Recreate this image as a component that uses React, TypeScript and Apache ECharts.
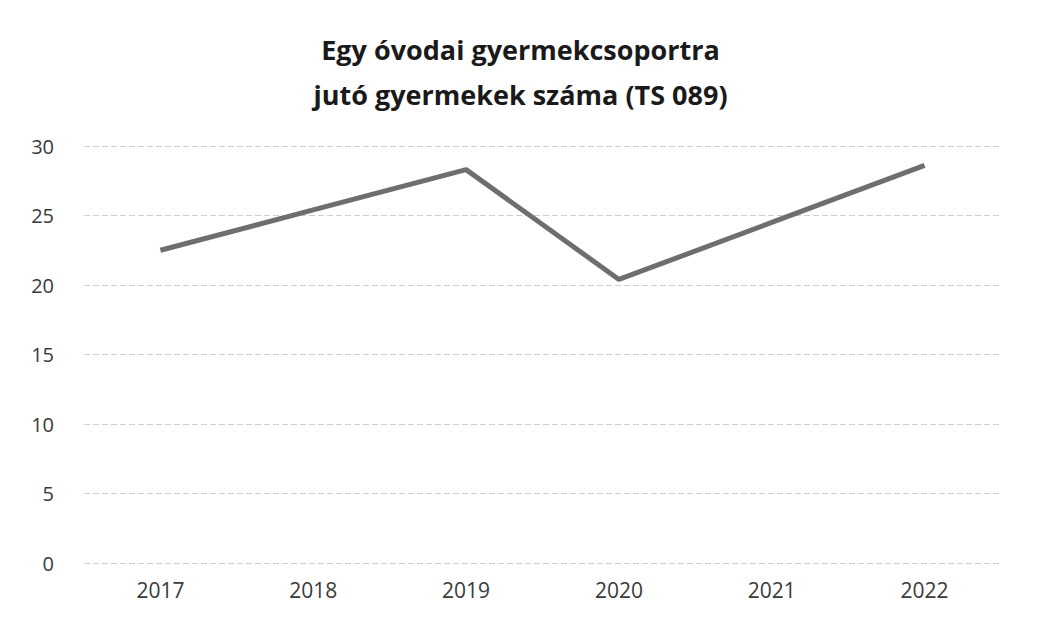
import React, { useEffect, useRef } from "react";
import * as echarts from "echarts";

const titleLines = ["Egy óvodai gyermekcsoportra", "jutó gyermekek száma (TS 089)"];
const years = ["2017", "2018", "2019", "2020", "2021", "2022"];
const values = [22.5, 25.4, 28.3, 20.4, 24.5, 28.6];
const yMin = 0;
const yMax = 30;
const yInterval = 5;

export default function App() {
  const ref = useRef<HTMLDivElement>(null);
  useEffect(() => {
    if (!ref.current) return;
    const chart = echarts.init(ref.current, undefined, { renderer: "svg" });
    chart.setOption({
      animation: false,
      backgroundColor: "#ffffff",
      title: {
        text: titleLines.join("\n"),
        left: "center",
        top: 22,
        textStyle: {
          fontFamily: "Open Sans",
          fontWeight: "bold",
          fontSize: 27,
          lineHeight: 45,
          color: "#1a1a1a",
        },
      },
      grid: { left: 84, right: 40, top: 146, bottom: 55 },
      xAxis: {
        type: "category",
        data: years,
        boundaryGap: true,
        axisLine: { show: false },
        axisTick: { show: false },
        axisLabel: {
          fontFamily: "Open Sans",
          fontSize: 21,
          color: "#3a3a3a",
          margin: 16,
        },
      },
      yAxis: {
        type: "value",
        min: yMin,
        max: yMax,
        interval: yInterval,
        axisLine: { show: false },
        axisTick: { show: false },
        axisLabel: {
          fontFamily: "Open Sans",
          fontSize: 20,
          color: "#3a3a3a",
          margin: 30,
        },
        splitLine: { lineStyle: { color: "#cfcfcf", width: 1, type: [6, 3] } },
      },
      series: [
        {
          type: "line",
          data: values,
          symbol: "none",
          lineStyle: { color: "#6e6e6e", width: 5 },
        },
      ],
    });
    return () => chart.dispose();
  }, []);
  return (
    <div
      ref={ref}
      style={{ position: "absolute", left: 0, top: 0, width: 1041, height: 618 }}
    />
  );
}
